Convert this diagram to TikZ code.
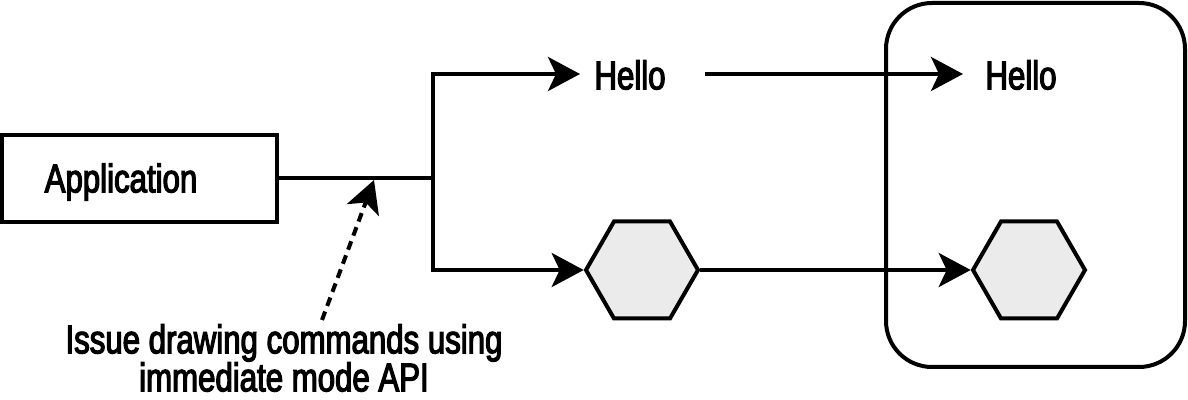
\documentclass[tikz,border=0pt]{standalone}
\usepackage{fontspec}
\setmainfont{Liberation Sans}[FakeStretch=0.78,FakeBold=3]
\usetikzlibrary{arrows.meta,shapes.geometric}
\begin{document}
\begin{tikzpicture}[x=0.5pt,y=-0.5pt,
  ln/.style={line width=2pt,draw=black},
  arr/.style={ln,-{Stealth[length=16pt,width=17pt,inset=4pt]}},
  txt/.style={font=\fontsize{20pt}{19pt}\selectfont,inner sep=0pt},
  hexa/.style={regular polygon,regular polygon sides=6,minimum size=56pt,inner sep=0pt,
    draw=black,line width=2pt,fill=black!8},
  box/.style={draw=black,line width=2pt,inner sep=0pt}]
\useasboundingbox (0,0) rectangle (1188,400);
% containers
\node[box,rounded corners=23pt,minimum width=149.5pt,minimum height=182pt] (screen) at (1035.5,185) {};
\node[box,minimum width=137.5pt,minimum height=43.5pt] (app) at (139.5,178.5) {};
\node[txt] (apptxt) at (121,182) {Application};
% texts
\node[txt] (hello1) at (630,75) {Hello};
\node[txt] (hello2) at (1021,75) {Hello};
\node[hexa] (hex1) at (642,270) {};
\node[hexa] (hex2) at (1029,270) {};
\node[txt,align=center] (note) at (284,358) {Issue drawing commands using\\immediate mode API};
% junction
\coordinate (j) at (433,178.5);
\coordinate (jt) at (433,74);
\coordinate (jb) at (433,270);
\coordinate (tip1) at (580,74);
\coordinate (dstart) at (322,320);
\coordinate (dend) at (374,180);
\coordinate (h1r) at (705,74);
\coordinate (tip2) at (963,74);
\draw[ln] (app.east |- j) -- (j);
\draw[arr,line join=miter] (j) -- (jt) -- (tip1);
\draw[arr,line join=miter] (j) -- (jb) -- (hex1.west);
\draw[arr] (h1r) -- (tip2);
\draw[arr] (hex1.east) -- (hex2.west);
\draw[arr,dash pattern=on 4.5pt off 3pt] (dstart) -- (dend);
\end{tikzpicture}
\end{document}
